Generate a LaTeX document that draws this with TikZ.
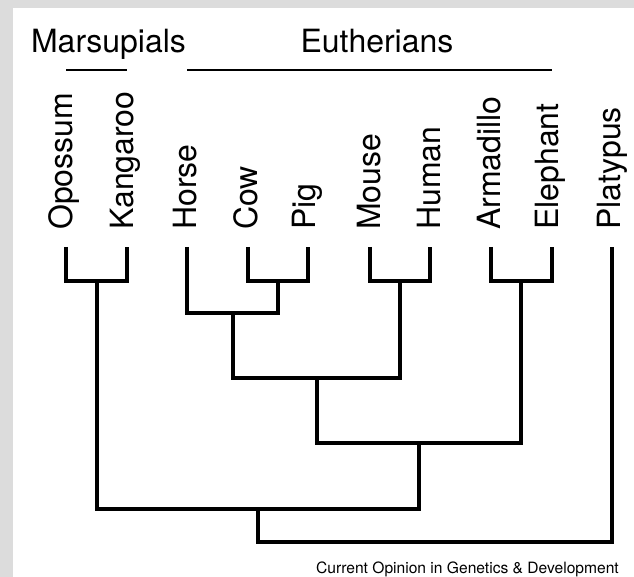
\documentclass[tikz,border=0pt]{standalone}
\usepackage{fontspec}
\setmainfont{TeX Gyre Heros}
\definecolor{bggray}{RGB}{220,220,220}
\begin{document}
\begin{tikzpicture}[x=1pt,y=-1pt,
  branch/.style={line width=3.3pt, line join=miter},
  groupline/.style={line width=1.5pt},
  leaf/.style={rotate=90, anchor=base west, inner sep=0pt, font=\fontsize{32}{38}\selectfont},
  header/.style={anchor=base, inner sep=0pt, font=\fontsize{32}{38}\selectfont},
  caption/.style={anchor=base east, inner sep=0pt, font=\fontsize{15.6}{18}\selectfont}]
\useasboundingbox (0,0) rectangle (634,577);
\fill[bggray] (0,0) rectangle (634,577);
\fill[white] (13,8) rectangle (634,577);
% headers
\node[header] (hmars) at (108.5,53) {Marsupials};
\node[header] (heuth) at (377,53) {Eutherians};
\coordinate (m1) at (66,70);  \coordinate (m2) at (127,70);
\coordinate (e1) at (187,70); \coordinate (e2) at (552,70);
\draw[groupline] (m1) -- (m2);
\draw[groupline] (e1) -- (e2);
% leaf labels
\node[leaf] (nOpossum)   at (72,230)  {Opossum};
\node[leaf] (nKangaroo)  at (133,230) {Kangaroo};
\node[leaf] (nHorse)     at (196.5,230) {Horse};
\node[leaf] (nCow)       at (257,230) {Cow};
\node[leaf] (nPig)       at (315,230) {Pig};
\node[leaf] (nMouse)     at (380,230) {Mouse};
\node[leaf] (nHuman)     at (440,230) {Human};
\node[leaf] (nArmadillo) at (500,230) {Armadillo};
\node[leaf] (nElephant)  at (558,230) {Elephant};
\node[leaf] (nPlatypus)  at (620,230) {Platypus};
% leaf tips
\coordinate (tOpossum)   at (66,247);
\coordinate (tKangaroo)  at (127,247);
\coordinate (tHorse)     at (187,247);
\coordinate (tCow)       at (248,247);
\coordinate (tPig)       at (308,247);
\coordinate (tMouse)     at (370,247);
\coordinate (tHuman)     at (430,247);
\coordinate (tArmadillo) at (491,247);
\coordinate (tElephant)  at (552,247);
\coordinate (tPlatypus)  at (612,247);
% internal nodes
\coordinate (marsup) at (97,281);
\coordinate (cowpig) at (278,281);
\coordinate (mouhum) at (400,281);
\coordinate (armele) at (521,281);
\coordinate (horcp)  at (233,313);
\coordinate (laur)   at (317,378);
\coordinate (euth)   at (419,443);
\coordinate (ther)   at (258,509);
\coordinate (root)   at (435,542);
% branches
\draw[branch] (tOpossum) |- (marsup) -| (tKangaroo);
\draw[branch] (tCow) |- (cowpig) -| (tPig);
\draw[branch] (tMouse) |- (mouhum) -| (tHuman);
\draw[branch] (tArmadillo) |- (armele) -| (tElephant);
\draw[branch] (tHorse) |- (horcp) -| (cowpig);
\draw[branch] (horcp) |- (laur) -| (mouhum);
\draw[branch] (laur) |- (euth) -| (armele);
\draw[branch] (marsup) |- (ther) -| (euth);
\draw[branch] (ther) |- (root) -| (tPlatypus);
% caption
\node[caption] (cap) at (619,573) {Current Opinion in Genetics \& Development};
\end{tikzpicture}
\end{document}
